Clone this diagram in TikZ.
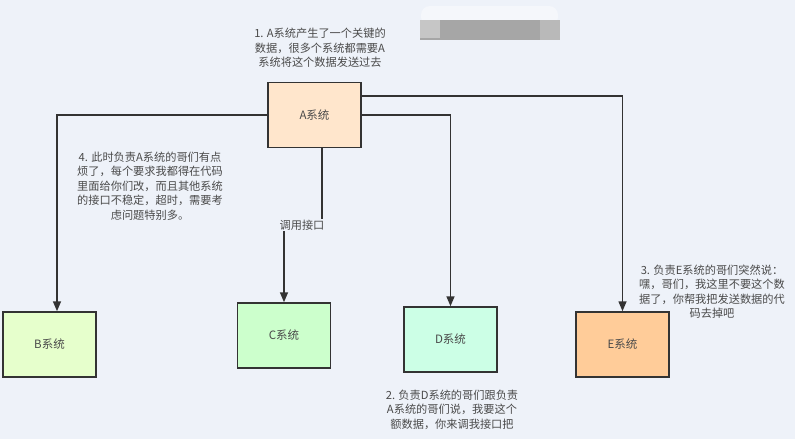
\documentclass[tikz,border=0pt]{standalone}
\usepackage{fontspec}
\setmainfont{Noto Sans CJK SC}
\usetikzlibrary{arrows.meta}
\definecolor{bg}{HTML}{EEF2F9}
\definecolor{ink}{HTML}{333333}
\definecolor{txt}{HTML}{4A4A4A}
\definecolor{fa}{HTML}{FFE6CC}
\definecolor{fb}{HTML}{E6FFCC}
\definecolor{fc}{HTML}{CCFFCC}
\definecolor{fd}{HTML}{CCFFE6}
\definecolor{fe}{HTML}{FFCC99}
\tikzset{
  sysbox/.style={draw=ink, line width=1.5pt, minimum width=93pt, minimum height=65pt, inner sep=0pt, font=\fontsize{11.5}{13}\selectfont, text=txt},
  note/.style={align=center, font=\fontsize{11.2}{14.4}\selectfont, text=txt, inner sep=0pt},
  conn/.style={draw=ink, line width=1.5pt, -{Triangle[length=10pt,width=8pt]}}
}
\begin{document}
\begin{tikzpicture}[x=1pt,y=-1pt]
\useasboundingbox (0,0) rectangle (795,439);
\fill[bg] (0,0) rectangle (795,439);
% blurred watermark
\fill[white!40!bg, rounded corners=9pt] (421,6) rectangle (558,26);
\fill[gray!70] (420,20) rectangle (560,40);
\fill[gray!45] (420,20) rectangle (440,38);
\fill[gray!55] (540,20) rectangle (560,40);

\node[sysbox, fill=fa] (A) at (314.5,115) {A系统};
\node[sysbox, fill=fb] (B) at (49.5,344.5) {B系统};
\node[sysbox, fill=fc] (C) at (284,335.5) {C系统};
\node[sysbox, fill=fd] (D) at (450.5,339.5) {D系统};
\node[sysbox, fill=fe] (E) at (622.5,344.5) {E系统};

\draw[conn] (A.west) -| ([xshift=7.5pt]B.north);
\draw[conn] ([yshift=19pt]A.east) -| (E.north);
\draw[conn] (A.east) -| (D.north);
\coordinate (k1) at (322,225);
\coordinate (k2) at (284,225);
\draw[conn] ([xshift=7.5pt]A.south) -- (k1) -- (k2) -- (C.north);
\node[fill=bg, inner sep=1pt, font=\fontsize{11.2}{13}\selectfont, text=txt] (lbl) at (302,225) {调用接口};

\node[note] (n1) at (320,48) {1. A系统产生了一个关键的\\数据，很多个系统都需要A\\系统将这个数据发送过去};
\node[note] (n4) at (150,186) {4. 此时负责A系统的哥们有点\\烦了，每个要求我都得在代码\\里面给你们改，而且其他系统\\的接口不稳定，超时，需要考\\虑问题特别多。};
\node[note] (n3) at (712,291.5) {3. 负责E系统的哥们突然说：\\嘿，哥们，我这里不要这个数\\据了，你帮我把发送数据的代\\码去掉吧};
\node[note] (n2) at (452,409.5) {2. 负责D系统的哥们跟负责\\A系统的哥们说，我要这个\\额数据，你来调我接口把};
\end{tikzpicture}
\end{document}
